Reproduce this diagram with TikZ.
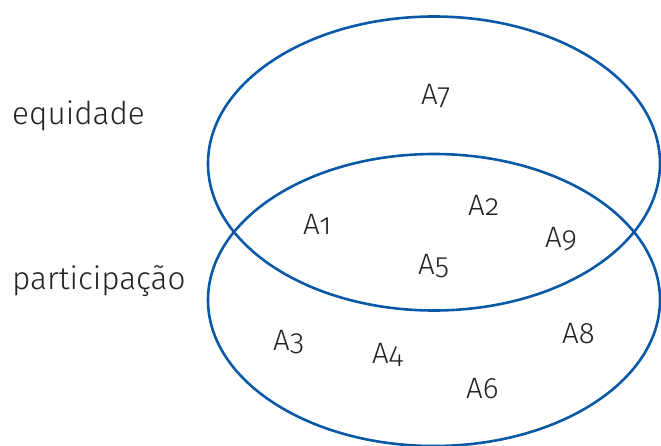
\documentclass[tikz,border=0pt]{standalone}
\usepackage{fontspec}
\setmainfont{Fira Sans}[UprightFont={* Light}, Numbers=OldStyle]
\definecolor{setblue}{HTML}{0A58A8}
\definecolor{txt}{HTML}{222222}
\begin{document}
\begin{tikzpicture}[x=1pt,y=-1pt,
  setline/.style={draw=setblue, line width=2.6pt},
  lbl/.style={anchor=base west, inner sep=0pt, text=txt, font=\fontsize{31.5}{34}\selectfont},
  elt/.style={anchor=base west, inner sep=0pt, text=txt, font=\fontsize{29.5}{34}\selectfont}]
\useasboundingbox (0,0) rectangle (661,445);
\draw[setline] (434,163.5) ellipse [x radius=226, y radius=147];
\draw[setline] (434,300) ellipse [x radius=226, y radius=146];
\node[lbl] (eq) at (12,124) {equidade};
\node[lbl] (pa) at (12,289) {participação};
\node[elt] (a7) at (421,104) {A7};
\node[elt] (a1) at (303,234) {A1};
\node[elt] (a2) at (468,215) {A2};
\node[elt] (a9) at (545,247) {A9};
\node[elt] (a5) at (418,274) {A5};
\node[elt] (a3) at (273,350) {A3};
\node[elt] (a4) at (372,363) {A4};
\node[elt] (a6) at (466,398) {A6};
\node[elt] (a8) at (562,343) {A8};
\end{tikzpicture}
\end{document}
